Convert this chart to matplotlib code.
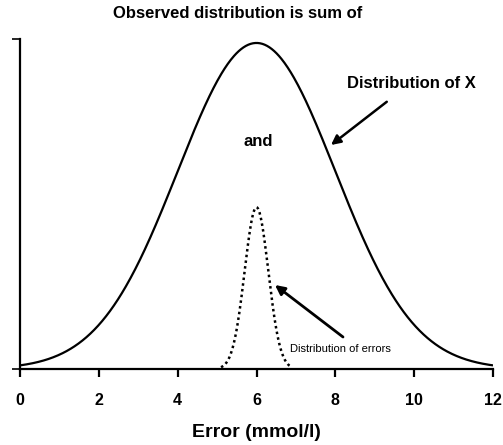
import numpy as np
import matplotlib
matplotlib.use("Agg")
import matplotlib.pyplot as plt

plt.rcParams['font.family'] = ['Liberation Sans', 'DejaVu Sans']

# Data: two normal curves described by mean, sd, peak height
x_ticks = [0, 2, 4, 6, 8, 10, 12]
x_tick_labels = ["0", "2", "4", "6", "8", "10", "12"]
dist_x_mean, dist_x_sd, dist_x_peak = 6.0, 2.0, 0.988
err_mean, err_sd, err_peak = 6.0, 0.3, 0.49
y_limits = [0.0, 1.0]

xs = np.linspace(0, 12, 600)
xs_err = np.linspace(5.1, 6.9, 200)
big = dist_x_peak * np.exp(-0.5 * ((xs - dist_x_mean) / dist_x_sd) ** 2)
small = err_peak * np.exp(-0.5 * ((xs_err - err_mean) / err_sd) ** 2)

fig = plt.figure(figsize=(5.03, 4.45), dpi=100)
ax = fig.add_axes([20/503, 1-369/445, 473/503, 330/445])
ax.plot(xs, big, color='black', lw=1.6, solid_capstyle='butt')
ax.plot(xs_err, small, color='black', lw=1.8, linestyle=(0, (1, 1.3)))

ax.set_xlim(0, 12)
ax.set_ylim(*y_limits)
ax.set_xticks(x_ticks)
ax.set_xticklabels(x_tick_labels, fontsize=11.5, fontweight='bold')
ax.set_yticks(y_limits)
ax.set_yticklabels([])
for s in ['top', 'right']:
    ax.spines[s].set_visible(False)
for s in ['left', 'bottom']:
    ax.spines[s].set_linewidth(1.6)
ax.tick_params(axis='x', direction='out', length=6, width=1.6, pad=11)
ax.tick_params(axis='y', direction='out', length=6, width=1.2)
ax.set_xlabel("Error (mmol/l)", fontsize=14, fontweight='bold', labelpad=12)

fig.text(238/503, 1-14/445, "Observed distribution is sum of", ha='center', va='center',
         fontsize=12, fontweight='bold')
fig.text(258/503, 1-141/445, "and", ha='center', va='center', fontsize=12, fontweight='bold')

ax.annotate("Distribution of X", xy=(331, 445-145), xycoords='figure pixels',
            xytext=(411, 445-83), textcoords='figure pixels', ha='center', va='center',
            fontsize=12, fontweight='bold',
            arrowprops=dict(arrowstyle='-|>', color='black', lw=1.8, mutation_scale=14,
                            shrinkA=10, shrinkB=0))
ax.annotate("Distribution of errors", xy=(275, 445-285), xycoords='figure pixels',
            xytext=(290, 445-349), textcoords='figure pixels', ha='left', va='center',
            fontsize=8)
ax.annotate("", xy=(275, 445-285), xycoords='figure pixels',
            xytext=(343, 445-337), textcoords='figure pixels',
            arrowprops=dict(arrowstyle='-|>', color='black', lw=2, mutation_scale=14,
                            shrinkA=0, shrinkB=0))

fig.savefig("out.png", dpi=100)
